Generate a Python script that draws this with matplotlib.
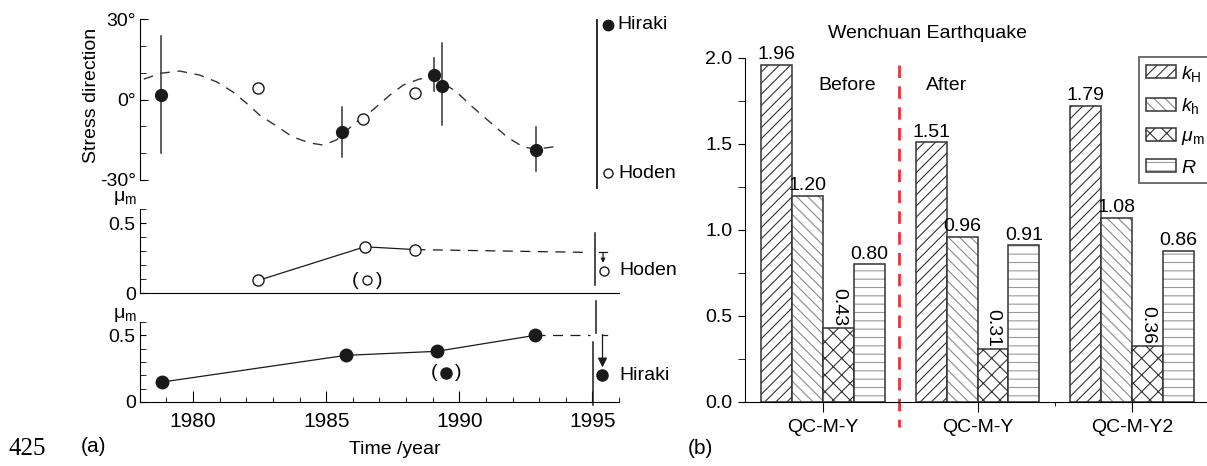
import matplotlib.pyplot as plt
import matplotlib.patches as mpatches
from matplotlib.ticker import MultipleLocator, FixedLocator, FormatStrFormatter

plt.rcParams['font.family'] = ['Liberation Sans', 'DejaVu Sans']
plt.rcParams['font.size'] = 14
plt.rcParams['mathtext.fontset'] = 'custom'
plt.rcParams['mathtext.rm'] = 'Liberation Sans'
plt.rcParams['mathtext.it'] = 'Liberation Sans:italic'
plt.rcParams['hatch.linewidth'] = 0.8

# ---- (a) stress direction ----
dir_years_hiraki = [1978.8, 1985.6, 1989.05, 1989.35, 1992.9]
dir_hiraki = [1.7, -12.1, 9.1, 5.0, -18.8]
dir_lo = [-19.9, -21.4, 3.2, -9.5, -26.6]
dir_hi = [23.7, -2.8, 15.5, 21.1, -10.2]
dir_years_hoden = [1982.45, 1986.4, 1988.35]
dir_hoden = [4.3, -7.3, 2.4]
curve_years = [1978.15, 1978.8, 1979.5, 1980.25, 1980.9, 1981.5, 1982.0, 1982.5,
               1983.15, 1983.75, 1984.4, 1984.9, 1985.4, 1986.0, 1986.75, 1987.4,
               1987.9, 1988.5, 1989.05, 1989.9, 1990.5, 1991.15, 1991.8, 1992.4,
               1992.9, 1993.8]
curve_deg = [7.6, 9.8, 10.6, 9.1, 6.5, 2.8, -1.3, -5.8, -10.0, -14.0, -16.2, -17.0,
             -15.0, -9.5, -3.9, 1.7, 5.4, 7.6, 8.4, 2.8, -2.8, -8.4, -14.0, -17.7,
             -18.5, -17.3]

# ---- (a) mu_m ----
mu_years_hoden = [1982.45, 1986.45, 1988.35]
mu_hoden = [0.09, 0.33, 0.31]
mu_years_hiraki = [1978.85, 1985.75, 1989.15, 1992.85]
mu_hiraki = [0.15, 0.35, 0.38, 0.50]

# ---- (b) Wenchuan ----
samples = ['QC-M-Y', 'QC-M-Y', 'QC-M-Y2']
k_H = [1.96, 1.51, 1.72]
k_h = [1.20, 0.96, 1.07]
mu_m = [0.43, 0.31, 0.325]
R = [0.80, 0.91, 0.88]
k_H_txt = ['1.96', '1.51', '1.79']
k_h_txt = ['1.20', '0.96', '1.08']
mu_m_txt = ['0.43', '0.31', '0.36']
R_txt = ['0.80', '0.91', '0.86']

W, H = 1207, 466
fig = plt.figure(figsize=(W / 100, H / 100), dpi=100)


def box(l, t, r, b):
    return [l / W, 1 - b / H, (r - l) / W, (b - t) / H]


ink = '#1a1a1a'
xl = (1978, 1996)

# top panel
ax1 = fig.add_axes(box(139.8, 19, 619, 180))
ax1.set_xlim(*xl); ax1.set_ylim(-30, 30)
for s in ['top', 'right', 'bottom']:
    ax1.spines[s].set_visible(False)
ax1.tick_params(bottom=False, labelbottom=False)
ax1.set_yticks([-30, 0, 30])
ax1.set_yticklabels(['-30°', '0°', '30°'])
ax1.yaxis.set_minor_locator(MultipleLocator(10))
ax1.tick_params(axis='y', which='both', direction='in', pad=3)
ax1.tick_params(axis='y', which='major', length=6)
ax1.tick_params(axis='y', which='minor', length=4)
ax1.plot(curve_years, curve_deg, color='#333', lw=1, dashes=(7, 5.5))
for x, y, lo, hi in zip(dir_years_hiraki, dir_hiraki, dir_lo, dir_hi):
    ax1.plot([x, x], [lo, hi], color='#333', lw=1.1)
ax1.plot(dir_years_hiraki, dir_hiraki, 'o', ms=8.5, color=ink, ls='none')
ax1.plot(dir_years_hoden, dir_hoden, 'o', ms=8, mfc='white', mec=ink, mew=1, ls='none')
ax1.plot([1995.18, 1995.18], [29.6, -33], color=ink, lw=1.3, clip_on=False)
ax1.plot([1995.6], [27.8], 'o', ms=7.5, color=ink, clip_on=False)
ax1.plot([1995.6], [-27.4], 'o', ms=6.5, mfc='white', mec=ink, mew=1, clip_on=False)
ax1.text(1995.95, 27.8, 'Hiraki', va='center', ha='left', clip_on=False)
ax1.text(1995.98, -27.4, 'Hoden', va='center', ha='left', clip_on=False)
fig.text(92 / W, 1 - 95 / H, 'Stress direction', rotation=90, ha='center', va='center')

# middle panel (Hoden)
ax2 = fig.add_axes(box(139.8, 209, 619, 293))
ax2.set_xlim(*xl); ax2.set_ylim(0, 0.6)
for s in ['top', 'right']:
    ax2.spines[s].set_visible(False)
ax2.tick_params(bottom=False, labelbottom=False)
ax2.set_yticks([0, 0.5]); ax2.set_yticklabels(['0', '0.5'])
ax2.yaxis.set_minor_locator(MultipleLocator(0.1))
ax2.tick_params(axis='y', which='both', direction='in', pad=3, length=4)
ax2.plot(mu_years_hoden, mu_hoden, color=ink, lw=0.9)
ax2.plot([mu_years_hoden[-1], 1994.85], [mu_hoden[-1], 0.29], color=ink, lw=0.9, dashes=(8, 6))
ax2.plot(mu_years_hoden, mu_hoden, 'o', ms=8, mfc='white', mec=ink, mew=1, ls='none')
ax2.plot([1986.55], [0.09], 'o', ms=6.5, mfc='white', mec=ink, mew=1)
ax2.text(1986.1, 0.09, '(', ha='center', va='center')
ax2.text(1987.0, 0.09, ')', ha='center', va='center')
ax2.plot([1995.1, 1995.1], [0.43, 0.057], color=ink, lw=1.1, clip_on=False)
ax2.plot([1995.25, 1995.55], [0.29, 0.29], color=ink, lw=0.9, clip_on=False)
ax2.annotate('', xy=(1995.4, 0.215), xytext=(1995.4, 0.29), annotation_clip=False,
             arrowprops=dict(arrowstyle='-|>', color=ink, lw=0.9, mutation_scale=6,
                             shrinkA=0, shrinkB=0))
ax2.plot([1995.45], [0.16], 'o', ms=6.5, mfc='white', mec=ink, mew=1, clip_on=False)
ax2.text(1996.0, 0.16, 'Hoden', va='center', ha='left', clip_on=False)
fig.text(125 / W, 1 - 198 / H, r'$\mathregular{\mu_m}$', ha='center', va='center')

# bottom panel (Hiraki)
ax3 = fig.add_axes(box(139.8, 322, 619, 402))
ax3.set_xlim(*xl); ax3.set_ylim(0, 0.6)
for s in ['top', 'right']:
    ax3.spines[s].set_visible(False)
ax3.set_yticks([0, 0.5]); ax3.set_yticklabels(['0', '0.5'])
ax3.yaxis.set_minor_locator(MultipleLocator(0.1))
ax3.tick_params(axis='y', which='both', direction='in', pad=3, length=4)
ax3.set_xticks([1980, 1985, 1990, 1995])
ax3.xaxis.set_minor_locator(MultipleLocator(1))
ax3.tick_params(axis='x', which='major', direction='in', length=8, pad=7, labelsize=15)
ax3.tick_params(axis='x', which='minor', direction='in', length=3.5)
ax3.plot(mu_years_hiraki, mu_hiraki, color=ink, lw=0.9)
ax3.plot([mu_years_hiraki[-1], 1994.9], [mu_hiraki[-1], 0.5], color=ink, lw=0.9, dashes=(8, 6))
ax3.plot(mu_years_hiraki, mu_hiraki, 'o', ms=9, color=ink, ls='none')
ax3.plot([1989.5], [0.22], 'o', ms=8, color=ink)
ax3.text(1989.05, 0.22, '(', ha='center', va='center')
ax3.text(1989.95, 0.22, ')', ha='center', va='center')
ax3.plot([1995.12, 1995.12], [0.76, 0.52], color=ink, lw=1.1, clip_on=False)
ax3.plot([1995.03, 1995.03], [0.45, -0.02], color=ink, lw=1.1, clip_on=False)
ax3.plot([1995.35, 1995.55], [0.505, 0.505], color=ink, lw=0.9, clip_on=False)
ax3.annotate('', xy=(1995.38, 0.26), xytext=(1995.38, 0.505), annotation_clip=False,
             arrowprops=dict(arrowstyle='-|>', color=ink, lw=0.9, mutation_scale=14,
                             shrinkA=0, shrinkB=0))
ax3.plot([1995.38], [0.20], 'o', ms=8, color=ink, clip_on=False)
ax3.text(1996.0, 0.20, 'Hiraki', va='center', ha='left', clip_on=False)
fig.text(125 / W, 1 - 315 / H, r'$\mathregular{\mu_m}$', ha='center', va='center')
fig.text(395 / W, 1 - 449 / H, 'Time /year', ha='center', va='center')
fig.text(93 / W, 1 - 446 / H, '(a)', ha='center', va='center', fontsize=15)
fig.text(27 / W, 1 - 449 / H, '425', ha='center', va='center', fontsize=18,
         family='Liberation Serif')

# ---- panel (b) ----
axb = fig.add_axes(box(745, 58, 1217, 402))
axb.set_xlim(-0.505, 2.55); axb.set_ylim(0, 2.0)
for s in ['top', 'right']:
    axb.spines[s].set_visible(False)
axb.yaxis.set_major_locator(MultipleLocator(0.5))
axb.yaxis.set_minor_locator(MultipleLocator(0.25))
axb.yaxis.set_major_formatter(FormatStrFormatter('%.1f'))
axb.tick_params(axis='y', which='both', direction='out', length=5, pad=4)
axb.set_xticks(range(len(samples)))
axb.set_xticklabels(samples)
axb.xaxis.set_minor_locator(FixedLocator([0.5, 1.5]))
axb.tick_params(axis='x', which='major', direction='out', length=7, pad=5)
axb.tick_params(axis='x', which='minor', direction='out', length=3)

series = [(k_H, k_H_txt, '///', '#333', r'$k_\mathrm{H}$'),
          (k_h, k_h_txt, '\\\\\\', '#8a8a8a', r'$k_\mathrm{h}$'),
          (mu_m, mu_m_txt, 'xx', '#333', r'$\mu_\mathrm{m}$'),
          (R, R_txt, '--', '#9a9a9a', r'$R$')]
handles, labels = [], []
bw = 0.2
for j, (vals, txt, hatch, hc, lab) in enumerate(series):
    xs = [i + (j - 1.5) * bw for i in range(len(vals))]
    axb.bar(xs, vals, bw, color='white', edgecolor=hc, hatch=hatch, lw=0)
    axb.bar(xs, vals, bw, fill=False, edgecolor='#333', lw=1.1)
    for x, v, t in zip(xs, vals, txt):
        if j == 2:
            axb.text(x, v + 0.01, t, rotation=-90, ha='center', va='bottom')
        else:
            axb.text(x, v + 0.01, t, ha='center', va='bottom')
    handles.append((mpatches.Patch(facecolor='white', edgecolor=hc, hatch=hatch, lw=0),
                    mpatches.Patch(fill=False, edgecolor='#333', lw=1.1)))
    labels.append(lab)

axb.plot([0.49, 0.49], [1.96, -0.145], color='#e8333c', lw=2, dashes=(4.5, 3),
         clip_on=False)
axb.text(0.155, 1.84, 'Before', ha='center', va='center')
axb.text(0.80, 1.84, 'After', ha='center', va='center')
fig.text(927 / W, 1 - 33 / H, 'Wenchuan Earthquake', ha='center', va='center')
fig.text(700 / W, 1 - 449 / H, '(b)', ha='center', va='center', fontsize=15)

leg = axb.legend(handles, labels, loc='upper left', bbox_to_anchor=(1139 / W, 1 - 57 / H),
                 bbox_transform=fig.transFigure, borderaxespad=0, fancybox=False,
                 framealpha=1, edgecolor='#555', prop={'size': 14}, handlelength=1.55,
                 handleheight=0.65, labelspacing=0.62, handletextpad=0.25,
                 borderpad=0.35)
leg.get_frame().set_linewidth(1.2)

fig.savefig('out.png', dpi=100)
